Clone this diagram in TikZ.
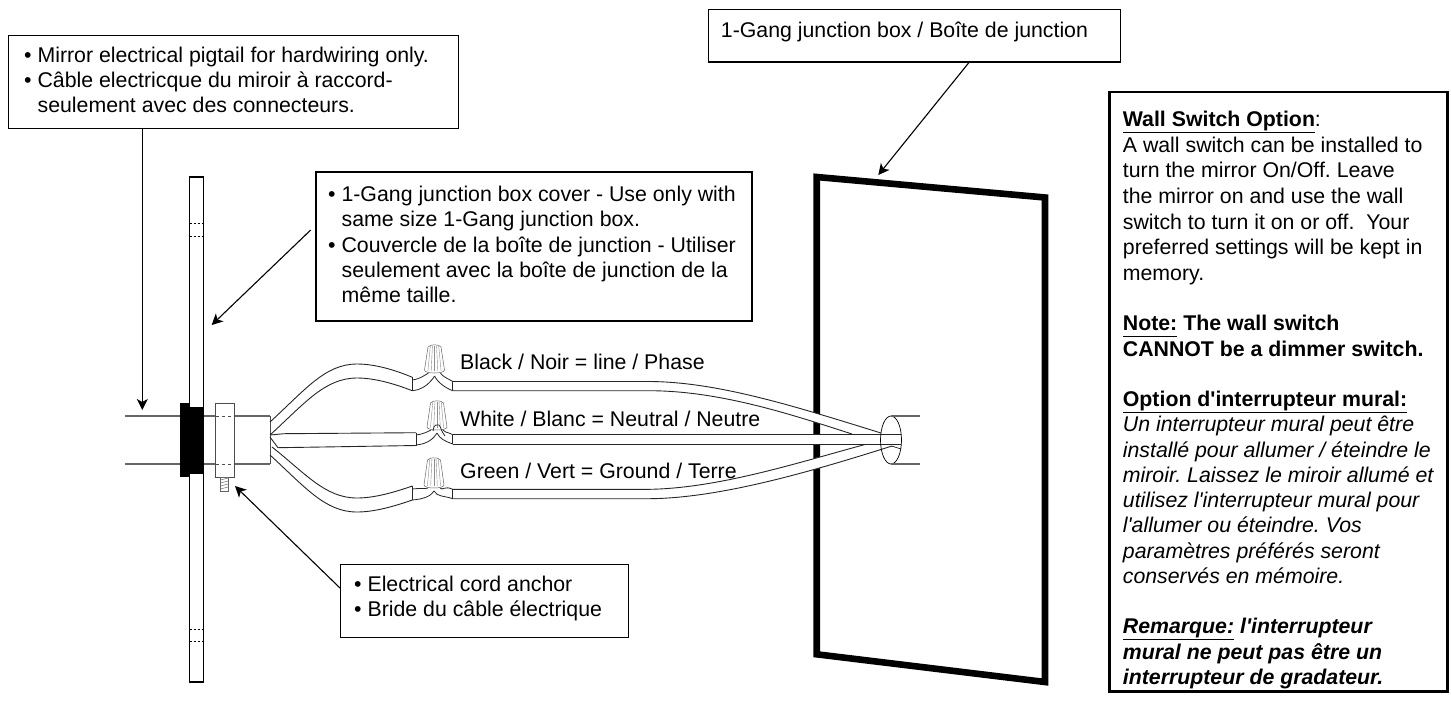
\documentclass[tikz,border=0pt]{standalone}
\usepackage{fontspec}
\setmainfont[Ligatures=TeXOff]{Liberation Sans}
\usetikzlibrary{arrows.meta}
\frenchspacing
\tikzset{
  x=1pt,y=-1pt,
  callout/.style={draw,line width=1.4pt,fill=white,inner sep=0pt,anchor=north west},
  lead/.style={line width=1.1pt,-{Stealth[length=11pt,width=11pt,inset=3pt]}},
  thin wire/.style={line width=.9pt,draw=black!85},
  cable/.style={line width=1.2pt,draw=black!60},
  rib/.style={line width=.4pt,draw=black!45},
  txt/.style={anchor=base west,inner sep=0pt,font=\frenchspacing\fontsize{21.3}{25}\selectfont},
}
\newcommand{\wirenut}[3]{% cx, top, bottom
  \draw[line width=.5pt,draw=black!60,fill=white]
    (#1-6.5,#2+3) .. controls (#1-4,#2) and (#1+4,#2) .. (#1+6.5,#2+3)
    -- (#1+10,#3-3) .. controls (#1+10,#3+1) and (#1-10,#3+1) .. (#1-10,#3-3) -- cycle;
  \foreach \d in {-6,-3,0,3,6}{\draw[rib] (#1+\d*.7,#2+2) -- (#1+\d*1.1,#3-2);}
}
\newcommand{\ulp}[1]{\underline{#1\vphantom{p}}}
\begin{document}
\begin{tikzpicture}
\path[use as bounding box] (0,0) rectangle (1451,710);
% mirror strip
\draw[line width=1.3pt] (189.5,177) rectangle (203.5,682);
\foreach \y in {223,236,629,641}{\draw[line width=.9pt,dash pattern=on 2pt off 2pt] (189.5,\y) -- (203.5,\y);}
% cable left
\draw[cable] (125,416) -- (180,416) (125,464) -- (180,464);
\fill (180,403) rectangle (190,477);
\fill (190,407) rectangle (204,474);
% junction cover
\draw[cable] (204,416) -- (216,416) (204,464) -- (216,464);
\draw[cable] (234,416) -- (270,416) (234,464) -- (270,464);
\draw[line width=1pt,draw=black!70] (215,403) rectangle (234.5,477);
\draw[line width=.8pt,dash pattern=on 3pt off 3pt,draw=black!70] (216,416) -- (234,416) (216,464) -- (234,464);
\draw[line width=.9pt,draw=black!70] (270,416) -- (270,464);
% screw
\draw[line width=.5pt,draw=black!60] (220.5,477) rectangle (228,491);
\foreach \y in {479,482,485,488}{\draw[line width=.5pt,draw=black!60] (220.5,\y+1) -- (228,\y-1);}
% wires left segment
\draw[thin wire] (270,422) .. controls (305,390) and (325,364) .. (357,364) .. controls (375,364) and (395,370) .. (412.3,377.3);
\draw[thin wire] (270,435) .. controls (305,403) and (325,378) .. (357,378) .. controls (375,378) and (395,384) .. (412.3,390.7);
\draw[thin wire] (412.3,377.3) -- (412.3,390.7);
\draw[thin wire] (270,435) -- (284,433.7) -- (416,432.7);
\draw[thin wire] (278,447.7) -- (416,445.5);
\draw[thin wire] (416,432.7) -- (416,445.5);
\draw[thin wire] (270,437) -- (278,447.7);
\draw[thin wire] (270,455) .. controls (305,487) and (325,512) .. (357,512) .. controls (375,512) and (395,506) .. (412.3,500);
\draw[thin wire] (272,447) .. controls (305,473) and (325,498) .. (357,498) .. controls (375,498) and (395,492) .. (412.3,486);
\draw[thin wire] (412.3,486) -- (412.3,500);
% Y connectors
\foreach \xl/\yt/\yb/\ylt/\ylb/\yrt/\yrb/\cx in {412.3/373/376/380/390.7/381.3/390.7/434.5,416/430/433/435/445/434.7/444/437,412.3/488/491/489/500/489.3/498.7/434}{
  \draw[line width=.8pt,draw=black!85] (\xl,\ylt) .. controls (\xl+8,\ylt-1) and (\cx-8,\yt+1) .. (\cx-6,\yt);
  \draw[line width=.8pt,draw=black!85] (\xl,\ylb) .. controls (\xl+12,\ylb-1) and (\cx-3,\yb+5) .. (\cx,\yb);
  \draw[line width=.8pt,draw=black!85] (\cx,\yb) .. controls (\cx+3,\yb+6) and (452.7-8,\yrb-3) .. (452.7,\yrb);
  \draw[line width=.8pt,draw=black!85] (\cx+6,\yt) .. controls (\cx+8,\yt+3) and (452.7-8,\yrt-4) .. (452.7,\yrt);
}
\wirenut{434.5}{344}{373}
\wirenut{437}{400}{430}
\wirenut{434}{457}{488}
\draw[line width=.8pt,draw=black!85] (433,431) .. controls (434,427) and (434,425) .. (436,425) -- (439,425) .. controls (441,427) and (441,431) .. (445,436);
% junction box outline
\draw[line width=6.6pt,miter limit=10] (816.7,177) -- (1045,197.5) -- (1045,682) -- (816.7,654.3) -- cycle;
% long wires
\fill[white] (452.7,382) -- (660,382) .. controls (720,384) and (800,408) .. (881,433) -- (852,434) .. controls (790,414) and (720,391) .. (660,391) -- (452.7,391) -- cycle;
\fill[white] (452.7,489.5) -- (650,489.5) .. controls (720,486) and (800,462) .. (865,444.5) -- (892,446) .. controls (810,472) and (720,498) .. (650,498.7) -- (452.7,498.7) -- cycle;
\fill[white] (452.7,434.5) rectangle (901,444.3);
\draw[thin wire] (452.7,381.3) -- (452.7,390.7);
\draw[thin wire] (452.7,434.7) -- (452.7,444.3);
\draw[thin wire] (452.7,489.3) -- (452.7,498.7);
\draw[thin wire] (452.7,381.5) -- (650,381.5) .. controls (720,382) and (800,408) .. (881,433);
\draw[thin wire] (452.7,390.7) -- (650,390.7) .. controls (720,391) and (790,414) .. (852,434);
\draw[thin wire] (452.7,434.5) -- (901,434.5) (452.7,444.3) -- (901,444.3);
\draw[thin wire] (452.7,489.3) -- (650,489.3) .. controls (720,488) and (800,462) .. (865,444.5);
\draw[thin wire] (452.7,498.7) -- (650,498.7) .. controls (720,498) and (810,472) .. (892,446);
% ellipse end
\draw[line width=.7pt] (891,440) ellipse [x radius=10.5,y radius=24];
\draw[cable] (891,416) -- (920,416) (891,464) -- (920,464);
\draw[line width=.6pt] (891.5,446) -- (901,449);
% labels
\node[txt] (lblk) at (460,369) {Black / Noir = line / Phase};
\node[txt] (lwht) at (460,426) {White / Blanc = Neutral / Neutre};
\node[txt] (lgrn) at (460,478.5) {Green / Vert = Ground / Terre};
% callouts
\node[callout,minimum width=450pt,minimum height=92.7pt] (pig) at (7.5,35) {};
\node[txt] (pig1) at (24,62) {• Mirror electrical pigtail for hardwiring only.};
\node[txt] (pig2) at (24,87) {• Câble electricque du miroir à raccord-};
\node[txt] (pig3) at (37.4,112.5) {seulement avec des connecteurs.};
\coordinate (pigtip) at (142.3,410);
\draw[lead] (pig.south -| pigtip) -- (pigtip);
\node[callout,minimum width=412.5pt,minimum height=52.7pt] (jb) at (707.5,8.5) {};
\node[txt] (jb1) at (720.7,37.5) {1-Gang junction box / Boîte de junction};
\coordinate (jbfrom) at (970,61.2);
\coordinate (jbtip) at (878.3,175);
\draw[lead] (jbfrom) -- (jbtip);
\node[callout,line width=2pt,minimum width=436pt,minimum height=149pt] (cov) at (314.5,171) {};
\node[txt] (cov1) at (328,201.7) {• 1-Gang junction box cover - Use only with};
\node[txt] (cov2) at (341.5,226.7) {same size 1-Gang junction box.};
\node[txt] (cov3) at (328,252.5) {• Couvercle de la boîte de junction - Utiliser};
\node[txt] (cov4) at (341.5,277.5) {seulement avec la boîte de junction de la};
\node[txt] (cov5) at (341.5,302.7) {même taille.};
\coordinate (covfrom) at (310.7,230);
\coordinate (covtip) at (211.7,325);
\draw[lead] (covfrom) -- (covtip);
\node[callout,minimum width=288pt,minimum height=73pt] (anc) at (340,564) {};
\node[txt] (anc1) at (354,591.7) {• Electrical cord anchor};
\node[txt] (anc2) at (354,616.7) {• Bride du câble électrique};
\coordinate (ancfrom) at (340,588);
\coordinate (anctip) at (235,486);
\draw[lead] (ancfrom) -- (anctip);
\node[callout,line width=2.7pt,minimum width=337.7pt,minimum height=599.3pt] (opt) at (1108.3,90.7) {};
\foreach \nm/\yy/\tt in {
 o1/126.7/{\ulp{\textbf{Wall Switch Option}}:},
 o2/152.3/{A wall switch can be installed to},
 o3/177.9/{turn the mirror On/Off. Leave},
 o4/203.5/{the mirror on and use the wall},
 o5/229.1/{switch to turn it on or off.~ Your},
 o6/254.7/{preferred settings will be kept in},
 o7/280.2/{memory.},
 o8/330.7/{\ulp{\textbf{Note:}} \textbf{The wall switch}},
 o9/356.2/{\textbf{CANNOT be a dimmer switch.}},
 o10/406.5/{\ulp{\textbf{Option d'interrupteur mural:}}},
 o11/431.8/{\textit{Un interrupteur mural peut être}},
 o12/457/{\textit{installé pour allumer / éteindre le}},
 o13/482.3/{\textit{miroir. Laissez le miroir allumé et}},
 o14/507.5/{\textit{utilisez l'interrupteur mural pour}},
 o15/532.8/{\textit{l'allumer ou éteindre. Vos}},
 o16/558/{\textit{paramètres préférés seront}},
 o17/583.3/{\textit{conservés en mémoire.}},
 o18/633.8/{\ulp{\textbf{\textit{Remarque:}}} \textbf{\textit{l'interrupteur}}},
 o19/659/{\textbf{\textit{mural ne peut pas être un}}},
 o20/684.3/{\textbf{\textit{interrupteur de gradateur.}}}}{
  \node[txt] (\nm) at (1122.7,\yy) {\tt};
}
\end{tikzpicture}
\end{document}
